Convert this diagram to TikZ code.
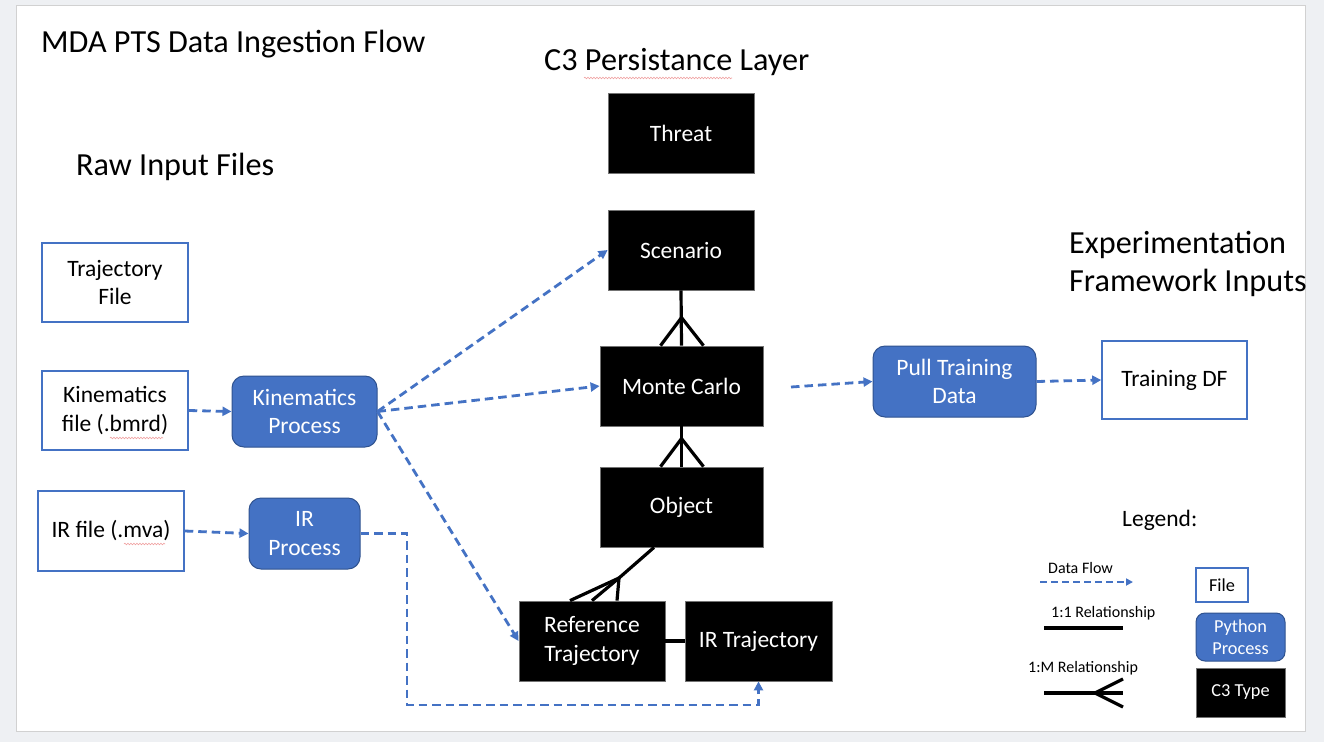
\documentclass[tikz,border=0pt]{standalone}
\usepackage{fontspec}
\setmainfont{Carlito}
\usetikzlibrary{arrows.meta,calc,decorations.pathmorphing}
\definecolor{obl}{HTML}{4472C4}
\definecolor{obd}{HTML}{2F528F}
\definecolor{bggray}{HTML}{EEF0F3}
\definecolor{squig}{HTML}{F0A0A0}
\newcommand{\ndfont}{\fontsize{23.5}{28.7}\selectfont}
\newcommand{\ttlfont}{\fontsize{32.2}{41}\selectfont}
\newcommand{\lgsmall}{\fontsize{16}{19.5}\selectfont}
\newcommand{\lgbox}{\fontsize{18.3}{22.3}\selectfont}
\tikzset{
 filebox/.style={draw=obl, line width=1.5pt, fill=white, align=center, inner sep=0pt, font=\ndfont},
 pybox/.style={draw=obd, line width=1pt, fill=obl, rounded corners=12pt, text=white, align=center, inner sep=0pt, font=\ndfont},
 cthree/.style={draw=black!55, line width=0.8pt, fill=black, text=white, align=center, inner sep=0pt, font=\ndfont},
 dataflow/.style={draw=obl, line width=2.8pt, dash pattern=on 8.5pt off 5pt, -{Triangle[length=9pt,width=9pt]}},
 legflow/.style={draw=obl, line width=2pt, dash pattern=on 7pt off 4pt, -{Triangle[length=7pt,width=7pt]}},
 rel/.style={draw=black, line width=3.2pt},
 ttl/.style={anchor=base west, inner sep=0pt, font=\ttlfont},
 lgtxt/.style={anchor=base west, inner sep=0pt, font=\lgsmall},
 squiggle/.style={draw=squig, line width=0.6pt, decorate, decoration={snake, amplitude=0.8pt, segment length=3pt}}
}
\begin{document}
\begin{tikzpicture}[x=1pt,y=-1pt]
% background
\fill[bggray] (0,0) rectangle (1324,742);
\useasboundingbox (0,0) rectangle (1324,742);
\filldraw[fill=white, draw=black!18, line width=1pt] (16,5) rectangle (1305,731);

% titles
\node[ttl] (t1) at (41,52) {MDA PTS Data Ingestion Flow};
\node[ttl] (t2) at (76,175) {Raw Input Files};
\node[ttl] (t3) at (544,70) {C3 Persistance Layer};
\node[ttl] (t4a) at (1069,253) {Experimentation};
\node[ttl] (t4b) at (1069,291) {Framework Inputs};
\draw[squiggle] (584,78) -- (732,78);

% files
\node[filebox, minimum width=146pt, minimum height=79pt] (traj) at (115,282.5) {Trajectory\\File};
\node[filebox, minimum width=146pt, minimum height=79pt] (kinf) at (115,410.5) {Kinematics\\file (.bmrd)};
\node[filebox, minimum width=146pt, minimum height=80pt] (irf) at (111,531) {IR file (.mva)};
\draw[squiggle] (110,438) -- (163,438);
\draw[squiggle] (124,544) -- (165,544);

% python processes
\node[pybox, minimum width=145pt, minimum height=71pt] (kinp) at (304.5,411.5) {Kinematics\\Process};
\node[pybox, minimum width=111pt, minimum height=71pt] (irp) at (304.5,533.5) {IR\\Process};
\node[pybox, minimum width=163pt, minimum height=71pt] (pull) at (954.5,381.5) {Pull Training\\Data};
\node[filebox, minimum width=145pt, minimum height=78pt] (tdf) at (1174.5,380) {Training DF};

% C3 types
\node[cthree, minimum width=146pt, minimum height=80pt] (threat) at (681,133) {Threat};
\node[cthree, minimum width=146pt, minimum height=80pt] (scen) at (681,250) {Scenario};
\node[cthree, minimum width=163pt, minimum height=80pt] (mc) at (681.5,386) {Monte Carlo};
\node[cthree, minimum width=163pt, minimum height=80pt] (obj) at (681.5,507) {Object};
\node[cthree, minimum width=146pt, minimum height=80pt] (ref) at (592,641) {Reference\\Trajectory};
\node[cthree, minimum width=147pt, minimum height=80pt] (irt) at (758.5,641) {IR Trajectory};

% data flows
\draw[dataflow] (kinf.east) -- (kinp.west);
\draw[dataflow] (irf.east) -- (irp.west);
\draw[dataflow] (kinp.east) -- (scen.west);
\draw[dataflow] (kinp.east) -- (mc.west);
\draw[dataflow] (kinp.east) -- (ref.west);
\coordinate (mcout) at (791,387);
\draw[dataflow] (mcout) -- (pull.west);
\draw[dataflow] (pull.east) -- (tdf.west);
\coordinate (irc) at (407,705);
\draw[dataflow] (irp.east) -| (irc) -| (irt.south);

% relationships
\coordinate (b1) at ($(mc.north)+(0,-28)$);
\draw[rel] (scen.south) -- (mc.north);
\draw[rel] ($(mc.north)+(-21,0)$) -- (b1) -- ($(mc.north)+(22,0)$);
\coordinate (b2) at ($(obj.north)+(0,-28)$);
\draw[rel] (mc.south) -- (obj.north);
\draw[rel] ($(obj.north)+(-21,0)$) -- (b2) -- ($(obj.north)+(22,0)$);
\coordinate (o3) at ($(obj.south)+(-27.5,0)$);
\coordinate (b3) at (619,578);
\draw[rel] (o3) -- (b3);
\draw[rel] ($(ref.north)+(-22,0)$) -- (b3) -- ($(ref.north)+(25,0)$);
\draw[rel] (b3) -- ($(ref.north)+(0,0)$);
\draw[rel] (ref.east) -- (irt.west);

% legend
\node[anchor=base west, inner sep=0pt, font=\ndfont] (leg) at (1122,526) {Legend:};
\node[lgtxt] (ldf) at (1048,573) {Data Flow};
\coordinate (lf1) at (1040,582);
\coordinate (lf2) at (1133,582);
\draw[legflow] (lf1) -- (lf2);
\node[lgtxt] (l11) at (1051,617) {1:1 Relationship};
\coordinate (lo1) at (1044,628);
\coordinate (lo2) at (1123,628);
\draw[rel] (lo1) -- (lo2);
\node[lgtxt] (l1m) at (1028,672) {1:M Relationship};
\coordinate (lm1) at (1044,693);
\coordinate (lm2) at (1095,693);
\draw[rel] (lm1) -- (lm2);
\draw[rel] (1123,679) -- (lm2) -- (1123,707);
\draw[rel] (lm2) -- (1123,693);
\node[filebox, line width=1.2pt, font=\lgbox, minimum width=52pt, minimum height=34pt] (lfile) at (1222,585) {File};
\node[pybox, rounded corners=9pt, font=\lgbox, minimum width=89pt, minimum height=48pt] (lpy) at (1240.5,637) {Python\\Process};
\node[cthree, font=\lgbox, minimum width=89pt, minimum height=49pt] (lc3) at (1240.5,692.5) {C3 Type};
\end{tikzpicture}
\end{document}
